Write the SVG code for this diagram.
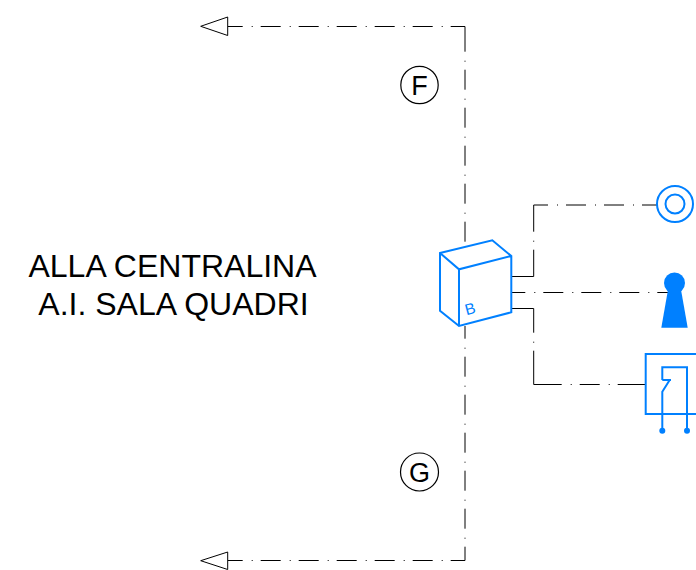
<svg xmlns="http://www.w3.org/2000/svg" width="696" height="570" viewBox="0 0 696 570">
<style>
text{font-family:"Liberation Sans",Arial,sans-serif;fill:#000}
.l{fill:none;stroke:#000;stroke-width:1}
.d{stroke-dasharray:20 9 1 8}
.g{stroke-dashoffset:20}
.a{fill:#fff;stroke:#000;stroke-width:1}
.c{fill:#fff;stroke:#000;stroke-width:1.2}
.b{fill:none;stroke:#0080ff;stroke-width:2;stroke-linejoin:miter}
.f{fill:#0080ff;stroke:none}
.t{font-size:32px;text-anchor:middle}
.m{font-size:27px;text-anchor:middle}
</style>
<rect width="696" height="570" fill="#fff"/>
<g id="connectors">
<path class="l d" stroke-dashoffset="5" d="M227.7 26.5H465"/>
<path class="l" d="M465 26.5V51.7"/>
<path class="l d g" d="M465 51.7V247"/>
<path class="l d" stroke-dashoffset="7.3" d="M465 326V560.5"/>
<path class="l d" stroke-dashoffset="5" d="M227.7 560.5H465"/>
<path class="l" d="M511.3 276.5H533.7V249.7"/>
<path class="l d g" d="M533.7 231.7V249.7"/>
<path class="l" d="M533.7 231.7V205H548"/>
<path class="l d g" d="M548 205H657"/>
<path class="l d" stroke-dashoffset="6" d="M511.3 292.5H668"/>
<path class="l" d="M511.3 308.5H533.7V332.7"/>
<path class="l d g" d="M533.7 332.7V350.7"/>
<path class="l" d="M533.7 350.7V384.5H561.7"/>
<path class="l d g" d="M561.7 384.5H617.7"/>
<path class="l" d="M617.7 384.5H645.7"/>
</g>
<g id="arrow-f"><path class="a" d="M200.7 26.3L227.7 17V35.5Z"/></g>
<g id="arrow-g"><path class="a" d="M200.7 560.7L227.7 552V569.5Z"/></g>
<g id="label-f"><circle class="c" cx="419.5" cy="85" r="18.7"/><text class="m" x="419.5" y="95">F</text></g>
<g id="label-g"><circle class="c" cx="419.5" cy="472" r="19"/><text class="m" x="419.5" y="482">G</text></g>
<g id="title"><text class="t" x="172.5" y="277">ALLA CENTRALINA</text><text class="t" x="173.5" y="315">A.I. SALA QUADRI</text></g>
<g id="box-b">
<path class="b" d="M440 253L492.3 240.3L511.3 256V312.3L459 326L440 310.7ZM440 253L459 269.3L511.3 256M459 269.3V326"/>
<text x="471.5" y="314" font-size="15.5" transform="rotate(-15 471.5 314)" text-anchor="middle" style="fill:#0080ff">B</text>
</g>
<g id="target"><circle class="b" cx="675" cy="204" r="18"/><circle class="b" cx="675" cy="204" r="9.5"/></g>
<g id="keyhole"><circle class="f" cx="674.5" cy="283" r="10.5"/><path class="f" d="M668.3 288H680.7L687.7 327.7H661.3Z"/></g>
<g id="relay">
<path class="b" d="M696 354H645.7V414H696"/>
<path class="b" d="M662.3 430.7V391.7L670 379.5M662.3 380H671M662.3 380V367.3H687V430.7"/>
<circle class="f" cx="662.3" cy="430.7" r="3"/><circle class="f" cx="687" cy="430.7" r="3"/>
</g>
</svg>
